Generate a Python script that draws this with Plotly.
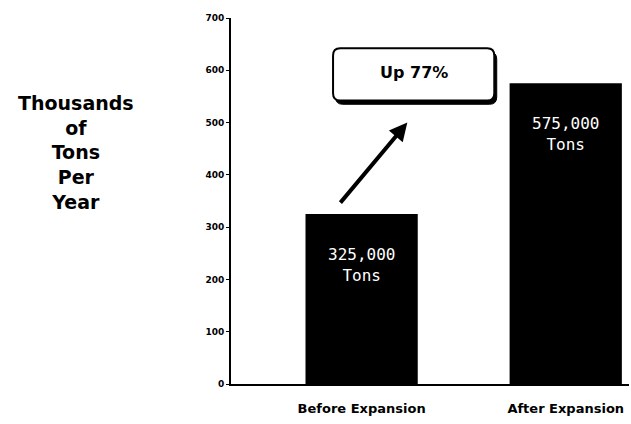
import plotly.graph_objects as go

categories = ["Before Expansion", "After Expansion"]
values = [325, 575]
bar_labels = ["325,000<br>Tons", "575,000<br>Tons"]
y_ticks = [0, 100, 200, 300, 400, 500, 600, 700]
callout_text = "Up 77%"
y_title = "Thousands<br>of<br>Tons<br>Per<br>Year"

x_pos = list(range(len(categories)))

fig = go.Figure()
fig.add_trace(go.Bar(
    x=x_pos, y=values, width=0.55,
    marker=dict(color="black", line=dict(width=0)),
    hoverinfo="skip",
))

# bar labels
for xi, v, lab in zip(x_pos, values, bar_labels):
    fig.add_annotation(x=xi, y=v - 55, text=lab, showarrow=False, yanchor="top",
                       font=dict(family="DejaVu Sans Mono", size=16, color="white"))

# callout box with shadow
def rrect(x0, x1, y0, y1, rx, ry):
    return (f"M {x0+rx},{y0} L {x1-rx},{y0} Q {x1},{y0} {x1},{y0+ry} "
            f"L {x1},{y1-ry} Q {x1},{y1} {x1-rx},{y1} L {x0+rx},{y1} "
            f"Q {x0},{y1} {x0},{y1-ry} L {x0},{y0+ry} Q {x0},{y0} {x0+rx},{y0} Z")

bx0, bx1, by0, by1 = -0.14, 0.65, 542, 642
rx, ry = 0.035, 14
sx, sy = 0.012, -7
fig.add_shape(type="path", path=rrect(bx0 + sx, bx1 + sx, by0 + sy, by1 + sy, rx, ry),
              fillcolor="black", line=dict(color="black", width=1), layer="above")
fig.add_shape(type="path", path=rrect(bx0, bx1, by0, by1, rx, ry),
              fillcolor="white", line=dict(color="black", width=2), layer="above")
fig.add_annotation(x=(bx0 + bx1) / 2, y=(by0 + by1) / 2 + 4, text=f"<b>{callout_text}</b>",
                   showarrow=False, font=dict(family="DejaVu Sans", size=16, color="black"))

# arrow
fig.add_annotation(x=0.224, y=500, ax=-0.11, ay=344, xref="x", yref="y",
                   axref="x", ayref="y", text="", showarrow=True,
                   arrowhead=2, arrowsize=0.9, arrowwidth=4, arrowcolor="black")

# y title
fig.add_annotation(xref="paper", yref="paper", x=-0.39, y=0.632, xanchor="center", yanchor="middle",
                   text=f"<b>{y_title}</b>", showarrow=False, align="center",
                   font=dict(family="DejaVu Sans", size=19, color="black"))

fig.update_layout(
    width=631, height=424,
    margin=dict(l=231, r=2, t=18, b=40, autoexpand=False),
    paper_bgcolor="white", plot_bgcolor="white",
    showlegend=False,
    xaxis=dict(range=[-0.64, 1.31], tickvals=x_pos, ticktext=[f"<b>{c}</b>" for c in categories],
               showline=True, linecolor="black", linewidth=2, ticks="",
               showgrid=False, zeroline=False, automargin=False, ticklabelstandoff=11,
               tickfont=dict(family="DejaVu Sans", size=13, color="black")),
    yaxis=dict(range=[0, 700], tickvals=y_ticks, showline=True, linecolor="black",
               linewidth=2, ticks="outside", ticklen=3, tickcolor="black", tickwidth=1,
               showgrid=False, zeroline=False, automargin=False,
               tickfont=dict(family="DejaVu Sans", size=9, color="black", weight="bold")),
)

fig.write_html("out.html", config={"displayModeBar": False},
               post_script="document.body.style.margin='0px';")
